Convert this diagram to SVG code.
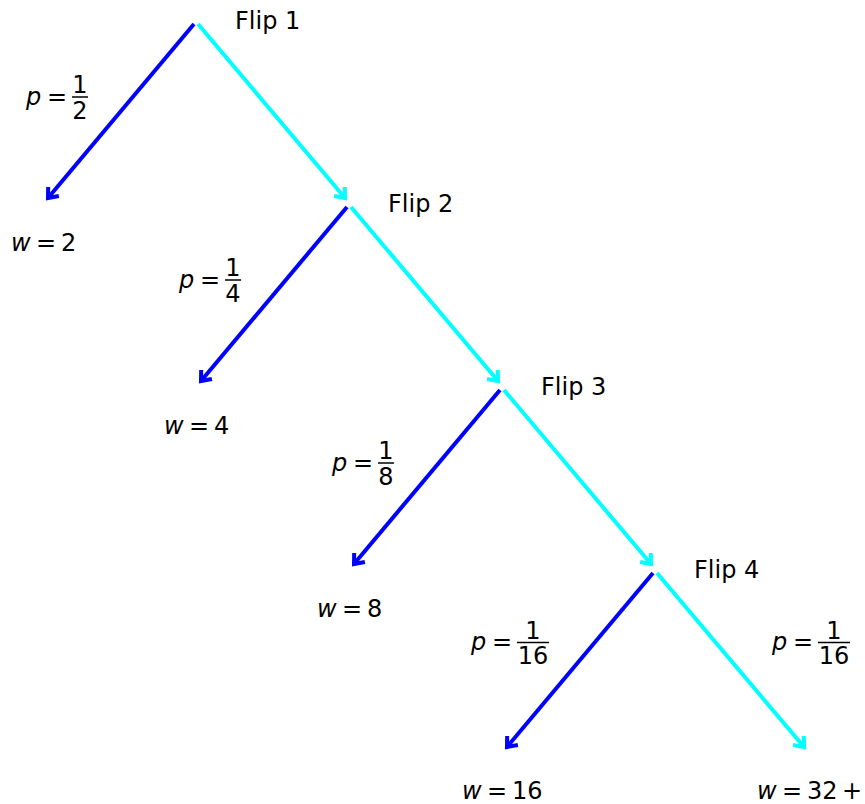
<svg xmlns="http://www.w3.org/2000/svg" width="865" height="804" viewBox="0 0 865 804">
<style>
  text { font-family: "DejaVu Sans", "Liberation Sans", sans-serif; font-size: 24px; fill: #000; }
  .i { font-style: italic; }
  .f { text-anchor: middle; }
  .bar { stroke: #000; stroke-width: 1.5; }
  .blue { stroke: #0000ff; stroke-width: 4; fill: none; }
  .cyan { stroke: #00ffff; stroke-width: 4; fill: none; }
</style>
<defs>
  <marker id="hb" markerUnits="userSpaceOnUse" markerWidth="20" markerHeight="20" refX="0" refY="0" viewBox="-12 -10 16 20" orient="auto" overflow="visible">
    <path d="M-8.6,-7 L0,0 L-8.6,7" fill="none" stroke="#0000ff" stroke-width="4" stroke-linejoin="miter"/>
  </marker>
  <marker id="hc" markerUnits="userSpaceOnUse" markerWidth="20" markerHeight="20" refX="0" refY="0" viewBox="-12 -10 16 20" orient="auto" overflow="visible">
    <path d="M-8.6,-7 L0,0 L-8.6,7" fill="none" stroke="#00ffff" stroke-width="4" stroke-linejoin="miter"/>
  </marker>
</defs>

<g id="connectors">
  <line class="blue" x1="194" y1="24" x2="48" y2="198" marker-end="url(#hb)"/>
  <line class="cyan" x1="198" y1="24" x2="345" y2="198" marker-end="url(#hc)"/>
  <line class="blue" x1="347" y1="207" x2="201" y2="381" marker-end="url(#hb)"/>
  <line class="cyan" x1="351" y1="207" x2="498" y2="381" marker-end="url(#hc)"/>
  <line class="blue" x1="500" y1="390" x2="354" y2="564" marker-end="url(#hb)"/>
  <line class="cyan" x1="504" y1="390" x2="651" y2="564" marker-end="url(#hc)"/>
  <line class="blue" x1="653" y1="573" x2="507" y2="747" marker-end="url(#hb)"/>
  <line class="cyan" x1="657" y1="573" x2="804" y2="747" marker-end="url(#hc)"/>
</g>

<g id="flip1"><text x="235" y="29">Flip 1</text></g>
<g id="flip2"><text x="388" y="212">Flip 2</text></g>
<g id="flip3"><text x="541" y="395">Flip 3</text></g>
<g id="flip4"><text x="694" y="578">Flip 4</text></g>

<g id="p1">
  <text x="26" y="105" class="i">p</text>
  <text x="47" y="105">=</text>
  <line class="bar" x1="72" y1="97" x2="88" y2="97"/>
  <text x="80" y="93" class="f">1</text>
  <text x="80" y="118.5" class="f">2</text>
</g>
<g id="p2">
  <text x="179" y="288" class="i">p</text>
  <text x="200" y="288">=</text>
  <line class="bar" x1="225" y1="280" x2="241" y2="280"/>
  <text x="233" y="276" class="f">1</text>
  <text x="233" y="301.5" class="f">4</text>
</g>
<g id="p3">
  <text x="332" y="471" class="i">p</text>
  <text x="353" y="471">=</text>
  <line class="bar" x1="378" y1="463" x2="394" y2="463"/>
  <text x="386" y="459" class="f">1</text>
  <text x="386" y="484.5" class="f">8</text>
</g>
<g id="p4">
  <text x="471" y="650" class="i">p</text>
  <text x="492" y="650">=</text>
  <line class="bar" x1="517" y1="642.5" x2="549" y2="642.5"/>
  <text x="533" y="638.5" class="f">1</text>
  <text x="533" y="664" class="f">16</text>
</g>
<g id="p5">
  <text x="772" y="650" class="i">p</text>
  <text x="793" y="650">=</text>
  <line class="bar" x1="818" y1="642.5" x2="850" y2="642.5"/>
  <text x="834" y="638.5" class="f">1</text>
  <text x="834" y="664" class="f">16</text>
</g>

<g id="w1">
  <text x="11" y="251" class="i">w</text>
  <text x="36" y="251">=</text>
  <text x="61" y="251">2</text>
</g>
<g id="w2">
  <text x="164" y="434" class="i">w</text>
  <text x="189" y="434">=</text>
  <text x="214" y="434">4</text>
</g>
<g id="w3">
  <text x="317" y="617" class="i">w</text>
  <text x="342" y="617">=</text>
  <text x="367" y="617">8</text>
</g>
<g id="w4">
  <text x="462" y="799" class="i">w</text>
  <text x="487" y="799">=</text>
  <text x="512" y="799">16</text>
</g>
<g id="w5">
  <text x="757" y="799" class="i">w</text>
  <text x="782" y="799">=</text>
  <text x="807" y="799">32</text>
  <text x="842" y="799">+</text>
</g>
</svg>
